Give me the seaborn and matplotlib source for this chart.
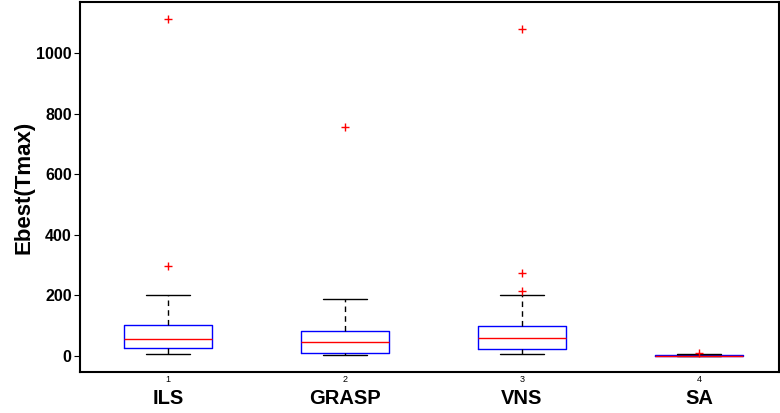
import numpy as np
import pandas as pd
import seaborn as sns
import matplotlib.pyplot as plt

# Ebest(Tmax) per run (quartiles / whiskers / outliers)
methods = ["ILS", "GRASP", "VNS", "SA"]
tick_numbers = ["1", "2", "3", "4"]
ils = [8, 15, 20, 27, 35, 45, 56, 70, 90, 102, 200, 298, 1113]
grasp = [2, 5, 8, 11, 20, 35, 47, 55, 70, 83, 120, 187, 758]
vns = [7, 10, 14, 18, 23, 30, 38, 48, 58, 65, 75, 88, 98, 200, 216, 274, 1081]
sa = [0, 0.2, 0.5, 0.8, 1, 1.2, 1.5, 2, 2.5, 3, 4, 5, 10]
yticks = [0, 200, 400, 600, 800, 1000]


def main():
    #Build long-form dataframe
    rows = []
    for name, vals in zip(methods, [ils, grasp, vns, sa]):
        for v in vals:
            rows.append((name, v))
    df = pd.DataFrame(rows, columns=["method", "Ebest"])

    sns.set_style("white")
    plt.rcParams["font.family"] = ["Liberation Sans", "DejaVu Sans"]
    plt.rcParams["text.color"] = "black"
    plt.rcParams["axes.labelcolor"] = "black"
    plt.rcParams["xtick.color"] = "black"
    plt.rcParams["ytick.color"] = "black"

    fig = plt.figure(figsize=(7.8, 4.13), dpi=100)
    ax = fig.add_axes([80 / 780, 41 / 413, 699 / 780, 370 / 413])

    sns.boxplot(data=df, x="method", y="Ebest", order=methods, ax=ax,
                width=0.5, whis=1.5, fill=False, color="blue", linewidth=1,
                boxprops=dict(color="blue", linewidth=1),
                medianprops=dict(color="red", linewidth=1),
                whiskerprops=dict(color="black", linestyle=(0, (4, 3)), linewidth=1),
                capprops=dict(color="black", linewidth=1),
                flierprops=dict(marker="+", markeredgecolor="red", markersize=5.5,
                                markeredgewidth=1))

    ax.set_xlim(-0.497, 3.452)
    ax.set_ylim(-53, 1170)
    ax.set_yticks(yticks)
    ax.set_yticklabels([str(t) for t in yticks], fontsize=11.5, fontweight="bold")
    ax.set_xticks(range(4))
    ax.set_xticklabels(tick_numbers, fontsize=6.5)
    ax.tick_params(axis="x", length=0, pad=2)
    ax.tick_params(axis="y", direction="out", length=4, left=True, pad=2)
    ax.set_xlabel("")
    ax.set_ylabel("Ebest(Tmax)", fontsize=16, fontweight="bold", labelpad=1)

    for i, name in enumerate(methods):
        ax.text(i, -0.045, name, transform=ax.get_xaxis_transform(),
                ha="center", va="top", fontsize=14.5, fontweight="bold")

    for s in ax.spines.values():
        s.set_visible(True)
        s.set_color("black")
        s.set_linewidth(1.5)

    plt.savefig("out.png", dpi=100)


if __name__ == '__main__':
    main()
